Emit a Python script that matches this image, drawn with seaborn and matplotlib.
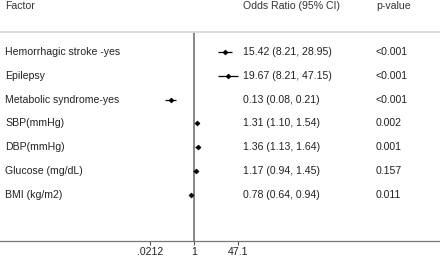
import matplotlib
matplotlib.use("Agg")
import matplotlib.pyplot as plt
import seaborn as sns
import numpy as np
import pandas as pd

# Data
factors = ["Hemorrhagic stroke -yes", "Epilepsy", "Metabolic syndrome-yes",
           "SBP(mmHg)", "DBP(mmHg)", "Glucose (mg/dL)", "BMI (kg/m2)"]
odds_ratio = [15.42, 19.67, 0.13, 1.31, 1.36, 1.17, 0.78]
ci_low = [8.21, 8.21, 0.08, 1.10, 1.13, 0.94, 0.64]
ci_high = [28.95, 47.15, 0.21, 1.54, 1.64, 1.45, 0.94]
p_values = ["<0.001", "<0.001", "<0.001", "0.002", "0.001", "0.157", "0.011"]
tick_values = [0.0212, 1, 47.1]
tick_labels = [".0212", "1", "47.1"]

df = pd.DataFrame({"factor": factors, "or": odds_ratio, "lo": ci_low, "hi": ci_high,
                   "p": p_values})
df["row"] = np.arange(len(df))

sns.set_style("white")
plt.rcParams["font.family"] = ["Liberation Sans", "DejaVu Sans"]
fs = 7.6

fig = plt.figure(figsize=(4.4, 2.58), dpi=100)
W, H = 440, 258
axis_y = 241
ax = fig.add_axes([0, (H - axis_y) / H, 1, (axis_y - 32) / H])

# log axis: x=1 at 194 px, ~11.4 px per log unit
k = 11.4
ax.set_xscale("log")
ax.set_xlim(np.exp(-194 / k), np.exp((W - 194) / k))
step = 23.8
ax.set_ylim((axis_y - 52) / step, -(52 - 32) / step)

ax.axvline(1, color="#666666", lw=1.1, zorder=1)
ax.hlines(df["row"], df["lo"], df["hi"], color="black", lw=0.9, zorder=2)
sns.scatterplot(data=df, x="or", y="row", ax=ax, color="black", marker="D",
                s=7, edgecolor="black", linewidth=0.3, zorder=3, legend=False)

for sp in ["left", "right"]:
    ax.spines[sp].set_visible(False)
ax.spines["top"].set_color("#d9d9d9")
ax.spines["top"].set_linewidth(1.3)
ax.spines["bottom"].set_color("#777777")
ax.spines["bottom"].set_linewidth(0.9)

ax.set_yticks([])
ax.set_xticks(tick_values)
ax.set_xticklabels(tick_labels, fontsize=fs, color="#222222")
ax.xaxis.set_minor_locator(matplotlib.ticker.NullLocator())
ax.tick_params(axis="x", direction="out", length=3, width=0.8, color="#555555",
               pad=1.5, bottom=True)
ax.set_xlabel("")
ax.set_ylabel("")

trans = matplotlib.transforms.blended_transform_factory(fig.transFigure, ax.transData)
head_y = (6 - 52) / step
ax.text(5 / W, head_y, "Factor", transform=trans, fontsize=fs, va="center",
        color="#333333", clip_on=False)
ax.text(243 / W, head_y, "Odds Ratio (95% CI)", transform=trans, fontsize=fs,
        va="center", color="#333333", clip_on=False)
ax.text(376 / W, head_y, "p-value", transform=trans, fontsize=fs, va="center",
        color="#333333", clip_on=False)

for _, r in df.iterrows():
    ax.text(5 / W, r["row"], r["factor"], transform=trans, fontsize=fs,
            va="center", color="#222222")
    ax.text(243 / W, r["row"], f"{r['or']:.2f} ({r['lo']:.2f}, {r['hi']:.2f})",
            transform=trans, fontsize=fs, va="center", color="#222222")
    ax.text(376 / W, r["row"], r["p"], transform=trans, fontsize=fs,
            va="center", color="#222222")

plt.savefig("out.png", dpi=100)
